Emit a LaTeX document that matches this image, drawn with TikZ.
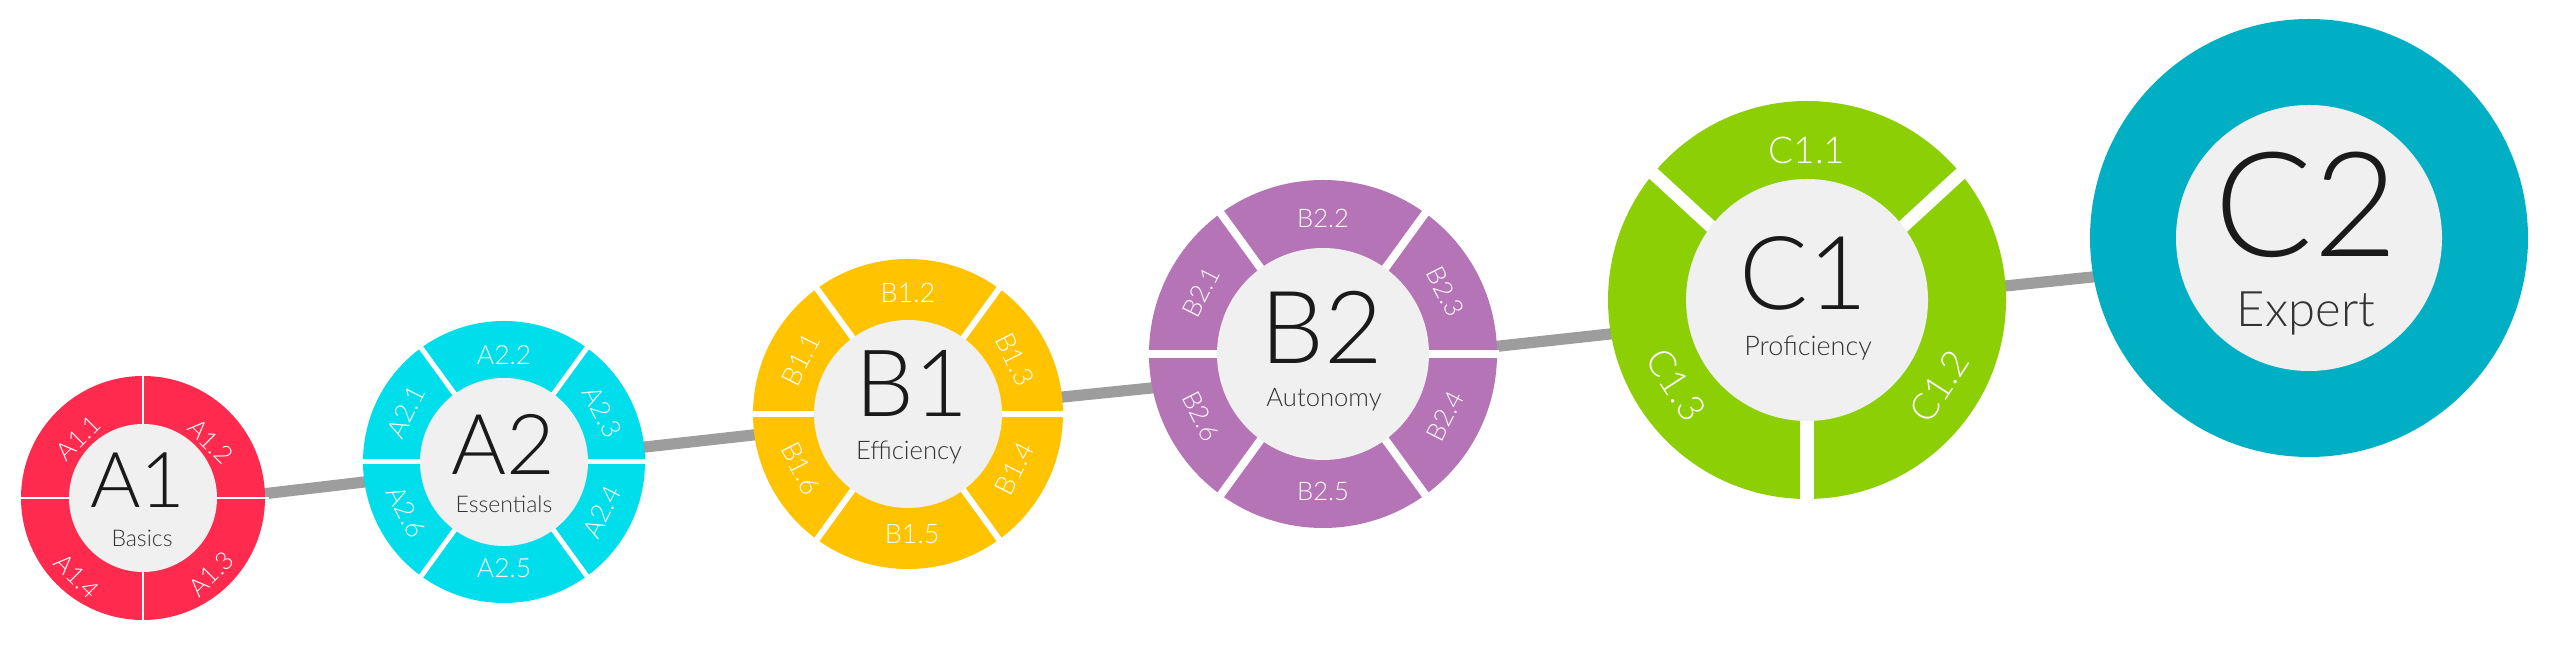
\documentclass[tikz,border=0pt]{standalone}
\usepackage{fontspec}
\IfFontExistsTF{Lato Light}{\setmainfont{Lato Light}}{\setmainfont{Lato}}
\usetikzlibrary{calc,backgrounds}
\definecolor{cAone}{HTML}{FF2B4F}
\definecolor{cAtwo}{HTML}{00DEEC}
\definecolor{cBone}{HTML}{FFC300}
\definecolor{cBtwo}{HTML}{B574B5}
\definecolor{cCone}{HTML}{8CCF04}
\definecolor{cCtwo}{HTML}{00AFC4}
\definecolor{hub}{HTML}{F0F0F0}
\definecolor{link}{HTML}{9D9D9D}
\definecolor{ink}{HTML}{1A1A1A}
\definecolor{subink}{HTML}{333333}
\tikzset{
 ring/.style={circle, inner sep=0pt, outer sep=0pt, draw=none, fill=#1},
 hubc/.style={circle, inner sep=0pt, outer sep=0pt, draw=none, fill=hub},
 gapline/.style={draw=white, line width=#1},
 conn/.style={draw=link, line width=5.6pt},
 seglabel/.style={text=white, inner sep=0pt, font=\fontsize{#1}{#1}\selectfont},
 biglabel/.style={text=ink, inner sep=0pt, anchor=base, font=\fontsize{#1}{#1}\selectfont},
 sublabel/.style={text=subink, inner sep=0pt, anchor=base, font=\fontsize{#1}{#1}\selectfont},
}
\begin{document}
\begin{tikzpicture}[x=0.5pt,y=0.5pt]
\useasboundingbox (0,0) rectangle (2560,651);

% ---------- A1 ----------
\node[ring=cAone, minimum size=122pt] (A1) at (143,153) {};
\foreach \a in {0,90,180,270}
  \draw[gapline=1.3pt] ($(A1.center)+(\a:70)$) -- ($(A1.center)+(\a:126)$);
\node[hubc, minimum size=74pt] (A1hub) at (A1.center) {};
\node[seglabel=12.5pt, rotate=45]  (A1s1) at ($(A1.center)+(137:88)$) {A1.1};
\node[seglabel=12.5pt, rotate=-45] (A1s2) at ($(A1.center)+(40:88)$) {A1.2};
\node[seglabel=12.5pt, rotate=45]  (A1s3) at ($(A1.center)+(-48:102)$) {A1.3};
\node[seglabel=12.5pt, rotate=-45] (A1s4) at ($(A1.center)+(-130:103)$) {A1.4};
\node[biglabel=38.5pt] (A1t) at ($(A1.center)+(-5,-10)$) {A1};
\node[sublabel=11.5pt] (A1d) at ($(A1.center)+(-1,-49)$) {Basics};

% ---------- A2 ----------
\node[ring=cAtwo, minimum size=141pt] (A2) at (504,189) {};
\foreach \a in {0,54,126,180,234,306}
  \draw[gapline=2.5pt] ($(A2.center)+(\a:80)$) -- ($(A2.center)+(\a:143)$);
\node[hubc, minimum size=84pt] (A2hub) at (A2.center) {};
\node[seglabel=13.2pt, rotate=63]  (A2s1) at ($(A2.center)+(153:110)$) {A2.1};
\node[seglabel=13.2pt]             (A2s2) at ($(A2.center)+(90:107)$) {A2.2};
\node[seglabel=13.2pt, rotate=-63] (A2s3) at ($(A2.center)+(27:110)$) {A2.3};
\node[seglabel=13.2pt, rotate=63]  (A2s4) at ($(A2.center)+(-27:110)$) {A2.4};
\node[seglabel=13.2pt]             (A2s5) at ($(A2.center)+(-90:106)$) {A2.5};
\node[seglabel=13.2pt, rotate=-63] (A2s6) at ($(A2.center)+(-153:110)$) {A2.6};
\node[biglabel=42pt] (A2t) at ($(A2.center)+(-1,-13)$) {A2};
\node[sublabel=11.5pt] (A2d) at ($(A2.center)+(0,-51)$) {Essentials};

% ---------- B1 ----------
\node[ring=cBone, minimum size=155pt] (B1) at (908,237) {};
\foreach \a in {0,54,126,180,234,306}
  \draw[gapline=3pt] ($(B1.center)+(\a:90)$) -- ($(B1.center)+(\a:157)$);
\node[hubc, minimum size=94pt] (B1hub) at (B1.center) {};
\node[seglabel=13.5pt, rotate=63]  (B1s1) at ($(B1.center)+(153:120)$) {B1.1};
\node[seglabel=13.5pt]             (B1s2) at ($(B1.center)+(90:121)$) {B1.2};
\node[seglabel=13.5pt, rotate=-63] (B1s3) at ($(B1.center)+(27:120)$) {B1.3};
\node[seglabel=13.5pt, rotate=63]  (B1s4) at ($(B1.center)+(-27:120)$) {B1.4};
\node[seglabel=13.5pt]             (B1s5) at ($(B1.center)+(-88:120)$) {B1.5};
\node[seglabel=13.5pt, rotate=-63] (B1s6) at ($(B1.center)+(-153:120)$) {B1.6};
\node[biglabel=46.5pt] (B1t) at ($(B1.center)+(4,-3)$) {B1};
\node[sublabel=12.8pt] (B1d) at ($(B1.center)+(1,-46)$) {Efficiency};

% ---------- B2 ----------
\node[ring=cBtwo, minimum size=174pt] (B2) at (1323,297) {};
\foreach \a in {0,54,126,180,234,306}
  \draw[gapline=4pt] ($(B2.center)+(\a:100)$) -- ($(B2.center)+(\a:176)$);
\node[hubc, minimum size=106pt] (B2hub) at (B2.center) {};
\node[seglabel=12.8pt, rotate=63]  (B2s1) at ($(B2.center)+(153:137)$) {B2.1};
\node[seglabel=12.8pt]             (B2s2) at ($(B2.center)+(90:136)$) {B2.2};
\node[seglabel=12.8pt, rotate=-63] (B2s3) at ($(B2.center)+(27:137)$) {B2.3};
\node[seglabel=12.8pt, rotate=63]  (B2s4) at ($(B2.center)+(-27:137)$) {B2.4};
\node[seglabel=12.8pt]             (B2s5) at ($(B2.center)+(-90:137)$) {B2.5};
\node[seglabel=12.8pt, rotate=-63] (B2s6) at ($(B2.center)+(-153:137)$) {B2.6};
\node[biglabel=50.5pt] (B2t) at ($(B2.center)+(-1,-10)$) {B2};
\node[sublabel=12.8pt] (B2d) at ($(B2.center)+(1,-53)$) {Autonomy};

% ---------- C1 ----------
\node[ring=cCone, minimum size=199pt] (C1) at (1807,351) {};
\draw[gapline=6.5pt] ($(C1.center)+(37:112)$) -- ($(C1.center)+(39.5:203)$);
\draw[gapline=6.5pt] ($(C1.center)+(143:112)$) -- ($(C1.center)+(140.5:203)$);
\draw[gapline=6.8pt] ($(C1.center)+(270:112)$) -- ($(C1.center)+(270:203)$);
\node[hubc, minimum size=121pt] (C1hub) at (C1.center) {};
\node[seglabel=18.5pt]             (C1s1) at ($(C1.center)+(90:150)$) {C1.1};
\node[seglabel=18.5pt, rotate=57]  (C1s2) at ($(C1.center)+(-33:158)$) {C1.2};
\node[seglabel=18.5pt, rotate=-57] (C1s3) at ($(C1.center)+(213:156)$) {C1.3};
\node[biglabel=51pt] (C1t) at ($(C1.center)+(-3,-10)$) {C1};
\node[sublabel=13.5pt] (C1d) at ($(C1.center)+(1,-56)$) {Proficiency};

% ---------- C2 ----------
\node[ring=cCtwo, minimum size=219pt] (C2) at (2309,413) {};
\node[hubc, minimum size=133pt] (C2hub) at (C2.center) {};
\node[biglabel=73pt] (C2t) at ($(C2.center)+(-3,-19)$) {C2};
\node[sublabel=24.5pt] (C2d) at ($(C2.center)+(-3,-89)$) {Expert};

% ---------- connectors ----------
\begin{pgfonlayer}{background}
\draw[conn] ($(A1.center)+(0,-10)$)   -- ($(A2.center)+(0,-3.6)$);
\draw[conn] ($(A2.center)+(0,-0.7)$)  -- ($(B1.center)+(0,-3.8)$);
\draw[conn] ($(B1.center)+(0,1.2)$)   -- ($(B2.center)+(0,-16.5)$);
\draw[conn] ($(B2.center)+(0,-11.3)$) -- ($(C1.center)+(0,-12.5)$);
\draw[conn] ($(C1.center)+(0,-6.4)$)  -- ($(C2.center)+(0,-16.7)$);
\end{pgfonlayer}
\end{tikzpicture}
\end{document}
